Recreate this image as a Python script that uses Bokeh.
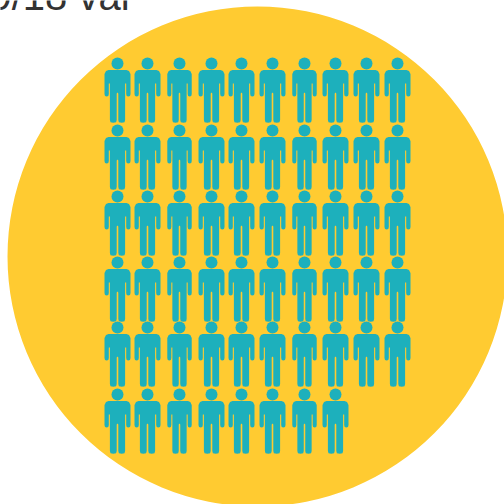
from bokeh.core.properties import value
from bokeh.embed import file_html
from bokeh.models import ColumnDataSource, Range1d
from bokeh.plotting import figure
from bokeh.resources import INLINE

TITLE = "9/18 val"
PEOPLE_PER_ROW = [10, 10, 10, 10, 10, 8]
COLUMN_X = [117, 147, 179, 211, 241, 272, 304, 335, 366, 397]
ROW_Y = [63, 130, 196, 262, 327, 394]
COLUMN_WIDTH = [1.0, 1.0, 0.94, 1.0, 1.0, 1.0, 0.94, 1.0, 1.0, 1.0]

# Right half of one figure's outline, relative to the centre of its head;
# the left half is its mirror image.
HALF_X = [0, 9, 11.5, 13, 13, 12.5, 10.8, 9.2, 8.7, 8.7, 7.6, 7.6, 7, 4.2, 1.4, 0.8, 0.8, 0]
HALF_Y = [6.5, 6.5, 7.5, 10.5, 30.5, 32.5, 33, 32.5, 30.5, 20, 20, 56.5, 58.7, 59.2, 58.7, 56.5, 30, 29]
BODY_X = HALF_X + [-dx for dx in reversed(HALF_X)]
BODY_Y = HALF_Y + list(reversed(HALF_Y))

heads_x, heads_y, xs, ys = [], [], [], []
for row, count in enumerate(PEOPLE_PER_ROW):
    for col in range(count):
        cx, cy, w = COLUMN_X[col], ROW_Y[row], COLUMN_WIDTH[col]
        heads_x.append(cx)
        heads_y.append(cy)
        xs.append([cx + w * dx for dx in BODY_X])
        ys.append([cy + dy for dy in BODY_Y])

p = figure(width=504, height=504, x_range=Range1d(0, 504), y_range=Range1d(504, 0),
           output_backend="svg", toolbar_location=None, min_border=0)
p.axis.visible = False
p.grid.visible = False
p.outline_line_color = None
p.background_fill_color = "white"
p.border_fill_color = "white"

p.circle(x=[257], y=[256], radius=250, fill_color="#FFCB31", line_color=None)
p.patches("xs", "ys", source=ColumnDataSource(dict(xs=xs, ys=ys)), fill_color="#1DB0BC", line_color=None)
p.scatter(heads_x, heads_y, size=12, marker="circle", fill_color="#1DB0BC", line_color=None)
p.text(x=[-11], y=[-5], text=[TITLE], text_font=value("Liberation Sans"), text_font_size="40px",
       text_color="#333333", text_baseline="alphabetic")

open("out.html", "w").write(file_html(p, INLINE))
